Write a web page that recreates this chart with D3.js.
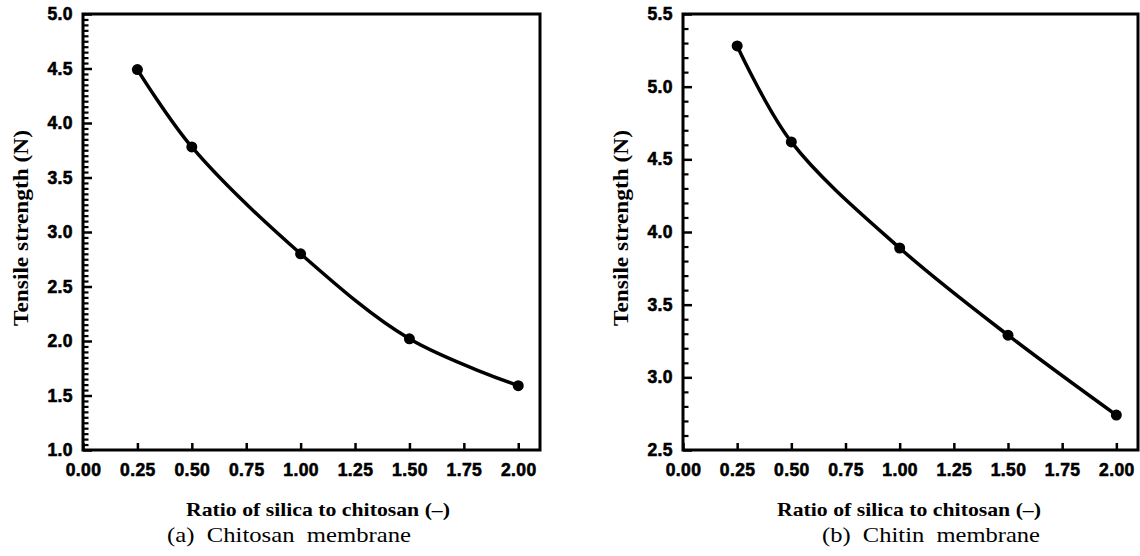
<!DOCTYPE html>
<html>
<head>
<meta charset="utf-8">
<script src="https://cdn.jsdelivr.net/npm/d3@7"></script>
<style>
  html, body { margin: 0; padding: 0; background: #fff; }
  svg { display: block; }
</style>
</head>
<body>
<svg id="chart" width="1140" height="556"></svg>
<script>
// ---- data ----
const ratioA = [0.25, 0.50, 1.00, 1.50, 2.00];
const strengthA = [4.49, 3.78, 2.80, 2.02, 1.59];
const ratioB = [0.25, 0.50, 1.00, 1.50, 2.00];
const strengthB = [5.28, 4.62, 3.89, 3.29, 2.74];
const xTicks = [0, 0.25, 0.5, 0.75, 1.0, 1.25, 1.5, 1.75, 2.0];
const yTicksA = [1.0, 1.5, 2.0, 2.5, 3.0, 3.5, 4.0, 4.5, 5.0];
const yTicksB = [2.5, 3.0, 3.5, 4.0, 4.5, 5.0, 5.5];
const xTitle = "Ratio of silica to chitosan (\u2013)";
const yTitle = "Tensile strength (N)";
const captionA = "(a)\u00a0 Chitosan\u00a0 membrane";
const captionB = "(b)\u00a0 Chitin\u00a0 membrane";

const svg = d3.select("#chart");

function styleTickText(sel) {
  sel.attr("font-family", "'Liberation Sans', Arial, sans-serif")
    .attr("font-weight", "bold").attr("font-size", 17.5)
    .attr("letter-spacing", 0.4).attr("fill", "#000")
    .attr("stroke", "#000").attr("stroke-width", 0.6);
}

function panel(opts) {
  const { x0, x1, y0, y1, xs, ys, yTicks, yDomain, minorStep, caption, capW, titleCx, capCx } = opts;
  const g = svg.append("g");
  const x = d3.scaleLinear().domain([0, 2.1]).range([x0, x1]);
  const y = d3.scaleLinear().domain(yDomain).range([y1, y0]);

  // minor y ticks
  const minor = d3.range(yDomain[0], yDomain[1] + 1e-9, minorStep)
    .filter(v => yTicks.every(t => Math.abs(t - v) > 1e-6));
  g.append("g").attr("transform", `translate(${x0},0)`)
    .call(d3.axisLeft(y).tickValues(minor).tickSize(-5.5).tickFormat(""))
    .call(a => a.select(".domain").remove())
    .selectAll("line").attr("stroke", "#000").attr("stroke-width", 2.2);

  // major y ticks
  g.append("g").attr("transform", `translate(${x0},0)`)
    .call(d3.axisLeft(y).tickValues(yTicks).tickSize(-9).tickPadding(10).tickFormat(d3.format(".1f")))
    .call(a => a.select(".domain").remove())
    .call(a => a.selectAll("line").attr("stroke", "#000").attr("stroke-width", 2.5))
    .call(a => a.selectAll("text").call(styleTickText));

  // x ticks
  g.append("g").attr("transform", `translate(0,${y1})`)
    .call(d3.axisBottom(x).tickValues(xTicks).tickSize(-7).tickPadding(14).tickFormat(d3.format(".2f")))
    .call(a => a.select(".domain").remove())
    .call(a => a.selectAll("line").attr("stroke", "#000").attr("stroke-width", 2.5))
    .call(a => a.selectAll("text").call(styleTickText));

  // frame
  g.append("rect").attr("x", x0).attr("y", y0)
    .attr("width", x1 - x0).attr("height", y1 - y0)
    .attr("fill", "none").attr("stroke", "#000").attr("stroke-width", 3);

  // curve
  const pts = xs.map((d, i) => [d, ys[i]]);
  g.append("path").datum(pts)
    .attr("d", d3.line().x(d => x(d[0])).y(d => y(d[1])).curve(d3.curveCatmullRom.alpha(0.5)))
    .attr("fill", "none").attr("stroke", "#000").attr("stroke-width", 3.5);
  g.selectAll("circle.pt").data(pts).enter().append("circle")
    .attr("cx", d => x(d[0])).attr("cy", d => y(d[1])).attr("r", 5.5).attr("fill", "#000");

  // y title
  g.append("text")
    .attr("transform", `translate(${x0 - 55},${(y0 + y1) / 2 - 4}) rotate(-90)`)
    .attr("text-anchor", "middle")
    .attr("font-family", "'Liberation Serif', 'Times New Roman', serif")
    .attr("font-weight", "bold").attr("font-size", 21)
    .attr("textLength", 196).attr("lengthAdjust", "spacingAndGlyphs")
    .text(yTitle);

  // x title
  g.append("text")
    .attr("x", titleCx).attr("y", 516)
    .attr("text-anchor", "middle")
    .attr("font-family", "'Liberation Serif', 'Times New Roman', serif")
    .attr("font-weight", "bold").attr("font-size", 19)
    .attr("textLength", 264).attr("lengthAdjust", "spacingAndGlyphs")
    .text(xTitle);

  // caption
  g.append("text")
    .attr("x", capCx).attr("y", 542)
    .attr("text-anchor", "middle")
    .attr("font-family", "'Liberation Serif', 'Times New Roman', serif")
    .attr("font-size", 21)
    .attr("textLength", capW).attr("lengthAdjust", "spacingAndGlyphs")
    .text(caption);
}

panel({ x0: 83, x1: 540, y0: 14, y1: 450, xs: ratioA, ys: strengthA,
  yTicks: yTicksA, yDomain: [1.0, 5.0], minorStep: 0.05,
  caption: captionA, capW: 244, titleCx: 318, capCx: 289 });
panel({ x0: 683, x1: 1138, y0: 14, y1: 450, xs: ratioB, ys: strengthB,
  yTicks: yTicksB, yDomain: [2.5, 5.5], minorStep: 0.1,
  caption: captionB, capW: 218, titleCx: 909, capCx: 931 });
</script>
</body>
</html>
